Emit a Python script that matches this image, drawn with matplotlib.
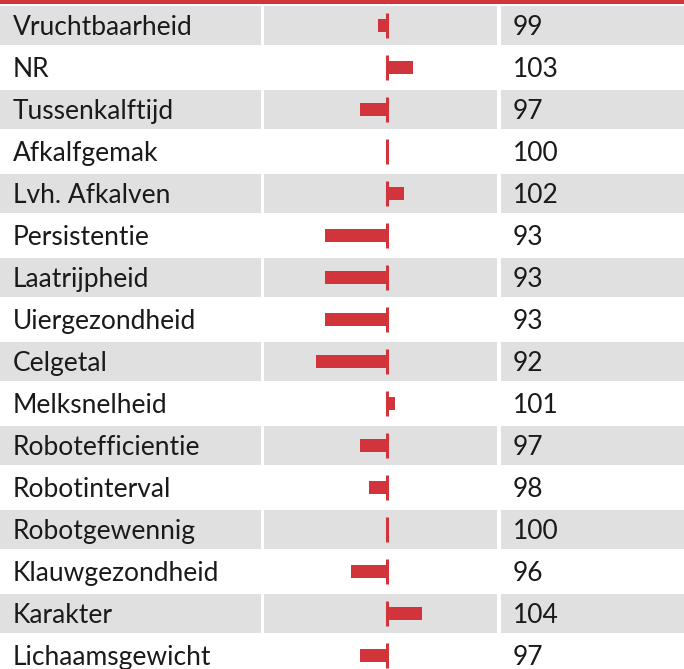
import matplotlib.pyplot as plt
from matplotlib.patches import Rectangle

# Kenmerken en fokwaarden
kenmerken = ['Vruchtbaarheid', 'NR', 'Tussenkalftijd', 'Afkalfgemak', 'Lvh. Afkalven',
             'Persistentie', 'Laatrijpheid', 'Uiergezondheid', 'Celgetal', 'Melksnelheid',
             'Robotefficientie', 'Robotinterval', 'Robotgewennig', 'Klauwgezondheid',
             'Karakter', 'Lichaamsgewicht']
waarden = [99, 103, 97, 100, 102, 93, 93, 93, 92, 101, 97, 98, 100, 96, 104, 97]
basis = 100

rood = '#d2343c'
grijs = '#e0e0e0'
tekst = '#1a1a1a'

W, H = 684, 669
pitch = 42
top = 6
fig = plt.figure(figsize=(W / 100, H / 100), dpi=100)

# achtergrond in pixelcoordinaten
bg = fig.add_axes([0, 0, 1, 1])
bg.set_xlim(0, W)
bg.set_ylim(H, 0)
bg.axis('off')
bg.add_patch(Rectangle((0, 0), W, 3.5, color=rood, lw=0))
kolommen = [(0, 261), (264, 497), (501, W)]
for i in range(len(kenmerken)):
    y0 = top + i * pitch
    if i % 2 == 0:
        for x0, x1 in kolommen:
            bg.add_patch(Rectangle((x0, y0), x1 - x0, 39, color=grijs, lw=0))
    bg.text(13, y0 + 29, kenmerken[i], fontsize=19, family='Lato', color=tekst,
            va='baseline', ha='left')
    bg.text(513, y0 + 29, str(waarden[i]), fontsize=19, family='Lato', color=tekst,
            va='baseline', ha='left')

# staafjes
px = 8.8
cx = 386.5
ax = fig.add_axes([264 / W, 0, (497 - 264) / W, 1])
ax.set_xlim(basis - (cx - 264) / px, basis + (497 - cx) / px)
ax.set_ylim((H - top - 19.5) / pitch, -(top + 19.5) / pitch)
ax.axis('off')
rijen = list(range(len(kenmerken)))
ax.barh(rijen, [v - basis for v in waarden], left=basis, height=13 / pitch, color=rood)
ax.vlines([basis] * len(rijen), [r - 12.5 / pitch for r in rijen],
          [r + 12.5 / pitch for r in rijen], color=rood, lw=2.2)

fig.savefig('out.png', dpi=100)
